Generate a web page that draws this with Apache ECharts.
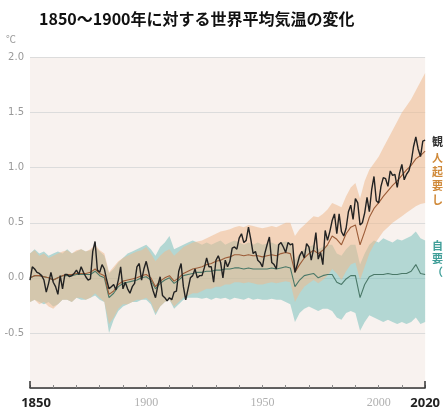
<!DOCTYPE html>
<html><head><meta charset="utf-8">
<script src="https://cdn.jsdelivr.net/npm/echarts@6/dist/echarts.min.js"></script>
<style>html,body{margin:0;padding:0;background:#fff}#c{width:443px;height:411px}</style>
</head><body><div id="c"></div>
<script>
// Observed annual values 1850..2020 (°C vs 1850-1900)
const obsStart = 1850;
const observed = [
-0.02,0.10,0.08,0.05,0.04,0.02,-0.02,-0.13,-0.05,0.05,
-0.04,-0.08,-0.15,0.02,-0.10,0.03,0.03,0.01,0.02,0.04,
0.07,0.03,0.10,0.05,0.01,-0.02,-0.01,0.24,0.33,0.07,
0.05,0.12,0.08,-0.02,-0.10,-0.08,-0.06,-0.11,-0.02,0.10,
-0.10,-0.04,-0.10,-0.14,-0.08,-0.05,0.10,0.13,-0.02,0.08,
0.15,0.06,-0.04,-0.12,-0.18,-0.07,0.01,-0.16,-0.18,-0.21,
-0.18,-0.20,-0.13,-0.12,0.06,0.13,-0.08,-0.20,-0.10,0.00,
0.02,0.08,0.00,0.02,0.02,0.09,0.18,0.10,0.10,-0.04,
0.16,0.20,0.14,0.00,0.16,0.10,0.15,0.27,0.28,0.26,
0.36,0.40,0.32,0.34,0.46,0.35,0.22,0.24,0.16,0.14,
0.10,0.22,0.30,0.37,0.14,0.12,0.08,0.30,0.32,0.28,
0.23,0.32,0.30,0.31,0.05,0.12,0.20,0.24,0.18,0.31,
0.28,0.16,0.26,0.41,0.17,0.23,0.12,0.43,0.34,0.42,
0.52,0.58,0.40,0.58,0.42,0.38,0.45,0.60,0.66,0.53,
0.72,0.68,0.48,0.50,0.59,0.73,0.60,0.80,0.92,0.70,
0.68,0.83,0.91,0.90,0.83,0.97,0.93,0.94,0.82,0.95,
1.03,0.89,0.94,0.97,1.05,1.19,1.28,1.17,1.10,1.24,
1.25];

// Simulations, every 2 years 1850..2020
const simStart = 1850, simStep = 2;
const humanNat = [
0.00,0.02,0.02,0.01,0.00,-0.02,0.00,0.02,0.03,0.03,
0.04,0.04,0.04,0.05,0.08,0.04,0.02,-0.15,-0.12,-0.06,
-0.03,-0.02,-0.01,0.00,0.02,0.03,0.00,-0.08,-0.03,0.00,
0.02,-0.03,0.00,0.04,0.06,0.08,0.09,0.10,0.12,0.13,
0.15,0.16,0.18,0.19,0.21,0.21,0.20,0.21,0.20,0.20,
0.19,0.20,0.21,0.20,0.22,0.23,0.22,0.05,0.12,0.18,
0.22,0.25,0.22,0.25,0.30,0.38,0.35,0.30,0.40,0.46,
0.48,0.30,0.42,0.55,0.63,0.68,0.74,0.79,0.84,0.88,
0.93,0.98,1.02,1.08,1.11,1.15];
const humanNatHigh = [
0.22,0.25,0.20,0.22,0.18,0.20,0.22,0.24,0.25,0.22,
0.25,0.26,0.24,0.26,0.30,0.25,0.22,0.05,0.10,0.15,
0.18,0.20,0.22,0.24,0.25,0.28,0.22,0.15,0.20,0.24,
0.26,0.20,0.24,0.28,0.30,0.32,0.33,0.34,0.36,0.38,
0.40,0.42,0.43,0.44,0.46,0.47,0.46,0.48,0.47,0.46,
0.45,0.46,0.47,0.46,0.48,0.50,0.50,0.38,0.44,0.48,
0.52,0.56,0.55,0.58,0.62,0.68,0.66,0.64,0.74,0.82,
0.86,0.72,0.88,0.98,1.04,1.10,1.18,1.26,1.34,1.42,
1.50,1.56,1.62,1.70,1.78,1.86];
const humanNatLow = [
-0.22,-0.20,-0.24,-0.22,-0.26,-0.28,-0.24,-0.20,-0.20,-0.22,
-0.18,-0.18,-0.20,-0.18,-0.14,-0.18,-0.22,-0.42,-0.36,-0.28,
-0.24,-0.24,-0.22,-0.20,-0.20,-0.18,-0.22,-0.32,-0.26,-0.22,
-0.20,-0.26,-0.22,-0.18,-0.16,-0.14,-0.14,-0.12,-0.10,-0.10,
-0.08,-0.08,-0.06,-0.06,-0.04,-0.04,-0.05,-0.04,-0.05,-0.06,
-0.06,-0.05,-0.04,-0.05,-0.04,-0.03,-0.04,-0.22,-0.14,-0.08,
-0.05,-0.02,-0.05,-0.02,0.02,0.08,0.04,-0.02,0.06,0.12,
0.14,-0.02,0.10,0.22,0.30,0.36,0.42,0.46,0.50,0.53,
0.56,0.59,0.62,0.65,0.67,0.68];
const natural = [
0.00,0.02,0.02,0.01,0.00,-0.02,0.00,0.02,0.02,0.02,
0.03,0.03,0.03,0.03,0.06,0.02,0.00,-0.18,-0.14,-0.08,
-0.05,-0.04,-0.03,-0.02,0.00,0.01,-0.02,-0.10,-0.05,-0.02,
0.00,-0.05,-0.02,0.02,0.03,0.04,0.05,0.05,0.06,0.06,
0.07,0.07,0.08,0.08,0.09,0.09,0.08,0.09,0.08,0.08,
0.08,0.08,0.09,0.08,0.09,0.10,0.09,-0.08,-0.02,0.02,
0.03,0.04,0.00,0.02,0.03,0.03,-0.04,-0.06,-0.01,0.02,
0.02,-0.18,-0.06,0.01,0.03,0.03,0.03,0.04,0.03,0.03,
0.04,0.04,0.06,0.12,0.04,0.03];
const naturalHigh = [
0.22,0.26,0.22,0.24,0.20,0.22,0.24,0.22,0.26,0.22,
0.24,0.26,0.24,0.25,0.28,0.24,0.20,0.04,0.08,0.14,
0.18,0.22,0.24,0.26,0.28,0.30,0.26,0.20,0.28,0.32,
0.38,0.26,0.28,0.30,0.32,0.34,0.32,0.30,0.32,0.30,
0.32,0.34,0.30,0.32,0.34,0.32,0.30,0.32,0.30,0.32,
0.30,0.31,0.32,0.30,0.32,0.33,0.32,0.16,0.22,0.26,
0.28,0.30,0.26,0.28,0.30,0.30,0.22,0.20,0.26,0.30,
0.30,0.12,0.22,0.30,0.34,0.32,0.36,0.34,0.32,0.35,
0.34,0.36,0.38,0.42,0.36,0.34];
const naturalLow = [
-0.22,-0.20,-0.22,-0.24,-0.22,-0.26,-0.24,-0.20,-0.20,-0.22,
-0.18,-0.20,-0.20,-0.18,-0.16,-0.20,-0.22,-0.50,-0.38,-0.30,
-0.26,-0.24,-0.22,-0.22,-0.20,-0.20,-0.24,-0.34,-0.26,-0.22,
-0.20,-0.28,-0.24,-0.20,-0.18,-0.18,-0.18,-0.19,-0.18,-0.20,
-0.18,-0.19,-0.18,-0.20,-0.18,-0.19,-0.20,-0.18,-0.20,-0.19,
-0.20,-0.20,-0.19,-0.20,-0.20,-0.22,-0.24,-0.40,-0.32,-0.28,
-0.26,-0.28,-0.30,-0.28,-0.28,-0.30,-0.36,-0.38,-0.32,-0.30,
-0.32,-0.48,-0.40,-0.34,-0.36,-0.38,-0.40,-0.38,-0.40,-0.42,
-0.40,-0.42,-0.40,-0.36,-0.42,-0.40];

const xTickLabels = {1850:'a',1900:'g',1950:'g',2000:'g',2020:'b'};
const yTickLabels = ['-0.5','0.0','0.5','1.0','1.5','2.0'];
const title = '1850～1900年に対する世界平均気温の変化';
const obsLabel = ['観測値'];
const hnLabel = ['人為起源と自然','起源の両方の','要因を考慮','したシミュレーション'];
const natLabel = ['自然起源の','要因のみを考慮','（太陽・火山）'];

function pairs(start, step, arr){ return arr.map((v,i)=>[start+i*step, v]); }

const chart = echarts.init(document.getElementById('c'), null, {renderer:'canvas'});

function bandSeries(name, low, high, color){
  const lowP = pairs(simStart, simStep, low), highP = pairs(simStart, simStep, high);
  return {
    name:name, type:'custom', silent:true, z:1, clip:true,
    data:[[simStart, 0]],
    encode:{x:0, y:1},
    renderItem:(params, api)=>{
      const pts = highP.map(p=>api.coord(p)).concat(lowP.slice().reverse().map(p=>api.coord(p)));
      return {type:'polygon', shape:{points:pts}, style:{fill:color}};
    }
  };
}

const graphics = [
  {type:'text', left:39, top:11, style:{text:title, font:'bold 16px "Noto Sans CJK JP"', fill:'#111'}},
  {type:'text', left:6, top:34, style:{text:'℃', font:'10px "Noto Sans CJK JP"', fill:'#999'}}
];
obsLabel.forEach((t,i)=>graphics.push({type:'text', left:432, top:136+i*14, style:{text:t, font:'bold 11px "Noto Sans CJK JP"', fill:'#333'}}));
hnLabel.forEach((t,i)=>graphics.push({type:'text', left:432, top:152+i*14, style:{text:t, font:'bold 11px "Noto Sans CJK JP"', fill:'#d08a3a'}}));
natLabel.forEach((t,i)=>graphics.push({type:'text', left:432, top:240+i*13, style:{text:t, font:'bold 11px "Noto Sans CJK JP"', fill:'#3f9e98'}}));

chart.setOption({
  animation:false,
  backgroundColor:'#ffffff',
  grid:{left:30, right:17, top:57.5, bottom:23, show:true, backgroundColor:'#f8f2ef', borderWidth:0, containLabel:false},
  xAxis:[{
    type:'value', min:1850, max:2020, interval:10,
    axisLine:{show:true, onZero:false, lineStyle:{color:'#333', width:1.5}},
    axisTick:{show:true, inside:true, length:3, lineStyle:{color:'#888', width:1}},
    splitLine:{show:false},
    axisLabel:{margin:9, formatter:v=>{const k=xTickLabels[v]; return k?('{'+k+'|'+v+'}'):'';},
      rich:{a:{fontFamily:'"Noto Sans", sans-serif', fontWeight:'bold', fontSize:13, color:'#222', padding:[0,0,0,12]},
            b:{fontFamily:'"Noto Sans", sans-serif', fontWeight:'bold', fontSize:13, color:'#222'},
            g:{fontFamily:'"Liberation Serif", serif', fontSize:12, color:'#b0b0b0'}}}
  },{
    type:'value', min:1850, max:2020, interval:170, position:'bottom',
    axisLine:{show:false, onZero:false}, axisLabel:{show:false}, splitLine:{show:false},
    axisTick:{show:true, inside:true, length:7, lineStyle:{color:'#333', width:1.5}}
  }],
  yAxis:{
    type:'value', min:-1, max:2, interval:0.5,
    axisLine:{show:false}, axisTick:{show:false},
    splitLine:{show:true, lineStyle:{color:'#dcdcdc', width:1}},
    axisLabel:{margin:6, fontSize:10, color:'#999', fontFamily:'"DejaVu Sans", sans-serif',
      formatter:v=>{const s=v.toFixed(1); return yTickLabels.indexOf(s)>=0?s:'';}}
  },
  graphic:graphics,
  series:[
    bandSeries('natBand', naturalLow, naturalHigh, 'rgba(110,188,183,0.5)'),
    bandSeries('hnBand', humanNatLow, humanNatHigh, 'rgba(238,186,142,0.55)'),
    {name:'natural', type:'line', data:pairs(simStart,simStep,natural), symbol:'none',
     lineStyle:{color:'#4a7868', width:1.1}, z:3},
    {name:'humanNat', type:'line', data:pairs(simStart,simStep,humanNat), symbol:'none',
     lineStyle:{color:'#9c5c38', width:1.1}, z:3},
    {name:'observed', type:'line', data:pairs(obsStart,1,observed), symbol:'none',
     lineStyle:{color:'#222', width:1.4}, z:4}
  ]
});
</script></body></html>
